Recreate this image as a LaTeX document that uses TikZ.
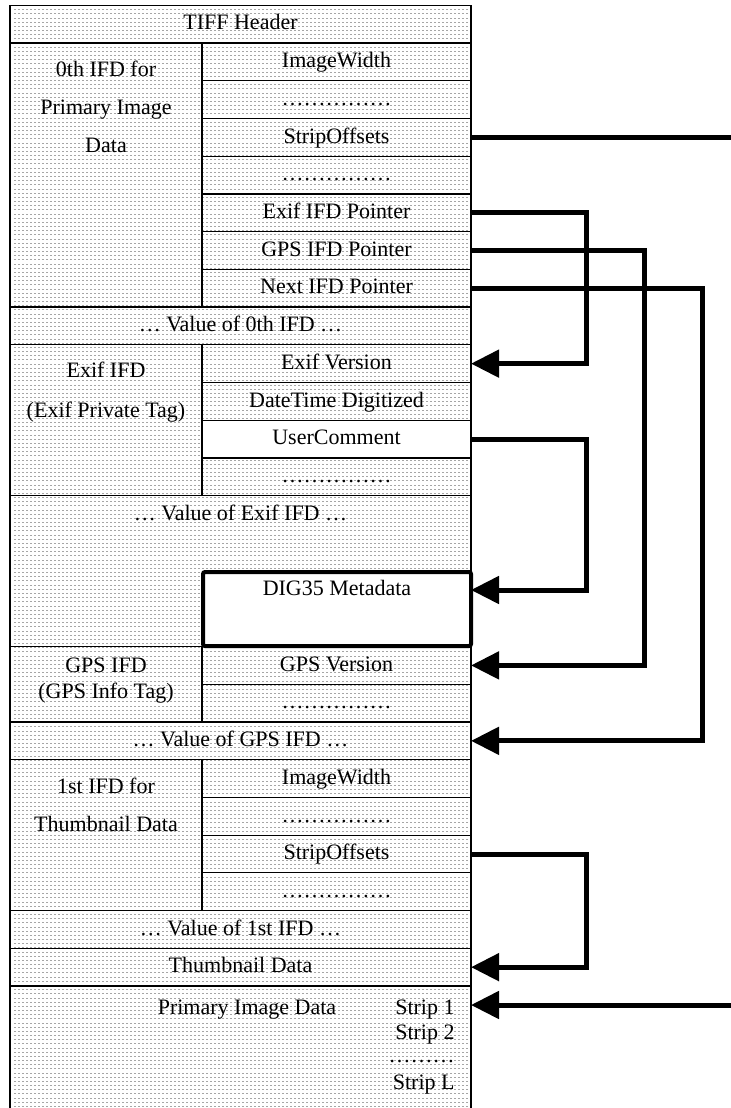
\documentclass[tikz,border=0pt]{standalone}
\usepackage{fontspec}
\setmainfont{Liberation Serif}
\usetikzlibrary{arrows.meta}

\begin{document}
\begin{tikzpicture}
[x=0.5pt,y=-0.5pt,
  >={Triangle[length=14pt,width=13.5pt]},
  dotRow/.style={line width=0.3pt,black!35,dash pattern=on 0.8pt off 1.2pt},
  txt/.style={font=\fontsize{11}{13}\selectfont,inner sep=0pt,
    text height=1.5ex,text depth=.25ex},
  cellDecorate/.style={txt,draw,line width=0.6pt,outer sep=0pt},
  wideCell/.style={cellDecorate,minimum width=230.5pt,minimum height=18.86pt},
  tagCell/.style={cellDecorate,minimum width=134.5pt,minimum height=18.86pt},
  ifdCell/.style={cellDecorate,minimum width=96pt,minimum height=#1},
  digDecorate/.style={draw,fill=white,line width=2pt,rounded corners=1pt,
    minimum width=134pt,minimum height=37pt,outer sep=0pt},
  ptrDecorate/.style={line width=2.5pt}]
\useasboundingbox (0,0) rectangle (731,1108);
%%
%%%%%%%%%%%%%%%%%%%%%%%%%%%%%%%%%%%%%%%%%%%%%%%%%%%%%%%%%%%%%%%%%%%%%%%%%%%
%%
%% dotted background
\foreach \yy in {9.5,13.67,...,1108}
{
  \draw[dotRow] (14,\yy) -- (468,\yy);
}
%%
%%%%%%%%%%%%%%%%%%%%%%%%%%%%%%%%%%%%%%%%%%%%%%%%%%%%%%%%%%%%%%%%%%%%%%%%%%%
%%
%% full width rows
\foreach \nodename/\y/\txt in {
  hdr/24.16/TIFF Header, val0/325.92/… Value of 0th IFD …,
  valgps/740.84/… Value of GPS IFD …, val1/929.44/… Value of 1st IFD …,
  thumb/967.16/Thumbnail Data}
{
  \node (\nodename) at (240.5,\y) [wideCell] {\txt};
}
%% tag rows
\foreach \nodename/\y/\txt in {
  iw0/61.88/ImageWidth, d0a/99.6/……………, so0/137.32/StripOffsets,
  d0b/175.04/……………, exifptr/212.76/Exif IFD Pointer,
  gpsptr/250.48/GPS IFD Pointer, nextptr/288.2/Next IFD Pointer,
  exifver/363.64/Exif Version, dtdig/401.36/DateTime Digitized,
  d1/476.8/……………,
  gpsver/665.4/GPS Version, d2/703.12/……………,
  iw1/778.56/ImageWidth, d3a/816.28/……………, so1/854/StripOffsets,
  d3b/891.72/……………}
{
  \node (\nodename) at (336.5,\y) [tagCell] {\txt};
}
\node (usercmt) at (336.5,439.08) [tagCell,fill=white] {UserComment};
%% ifd blocks
\node (ifd0) at (106,175.04) [ifdCell=132.02pt] {};
\node (exififd) at (106,420.18) [ifdCell=75.44pt] {};
\node (gpsifd) at (106,684.22) [ifdCell=37.72pt] {};
\node (ifd1) at (106,835.1) [ifdCell=75.44pt] {};
\foreach \nodename/\y/\txt in {
  ifd0a/70.7/0th IFD for, ifd0b/109/Primary Image, ifd0c/146.7/Data,
  exifa/372/Exif IFD, exifb/411.7/{(Exif Private Tag)},
  gpsa/667/GPS IFD, gpsb/693/{(GPS Info Tag)},
  ifd1a/787.7/1st IFD for, ifd1b/825.7/Thumbnail Data}
{
  \node (\nodename) at (106,\y) [txt] {\txt};
}
%% value of exif ifd
\node (valexif) at (240.5,571.06) [wideCell,minimum height=75.44pt] {};
\node (valexiftxt) at (240.5,514.52) [txt] {… Value of Exif IFD …};
\node (dig) at (337,609) [digDecorate] {};
\node (digtxt) at (337,590) [txt] {DIG35 Metadata};
%% primary image data
\node (primary) at (240.5,1050) [wideCell,minimum height=64pt] {};
\node (primtxt) at (247,1009) [txt] {Primary Image Data};
\foreach \nodename/\y/\txt in {
  s1/1009/Strip 1, s2/1034/Strip 2, sdots/1057/………, sL/1084/Strip L}
{
  \node (\nodename) at (455,\y) [txt,anchor=east] {\txt};
}
%%
%%%%%%%%%%%%%%%%%%%%%%%%%%%%%%%%%%%%%%%%%%%%%%%%%%%%%%%%%%%%%%%%%%%%%%%%%%%
%%
%% pointers
\foreach \startnode/\endnode/\lane in {
  exifptr.east/exifver.east/115, gpsptr.east/gpsver.east/173,
  nextptr.east/valgps.east/231, usercmt.east/{dig.east|-digtxt}/115,
  so1.east/thumb.east/115}
{
  \draw[ptrDecorate,->] (\startnode) -- ++(\lane,0) |- (\endnode);
}
%% strip offsets leaving and entering the page
\coordinate (outA) at (731,137.32);
\coordinate (outB) at (731,1005);
\draw[ptrDecorate] (so0.east) -- (outA);
\draw[ptrDecorate,->] (outB) -- (outB -| primary.east);
\end{tikzpicture}
\end{document}
